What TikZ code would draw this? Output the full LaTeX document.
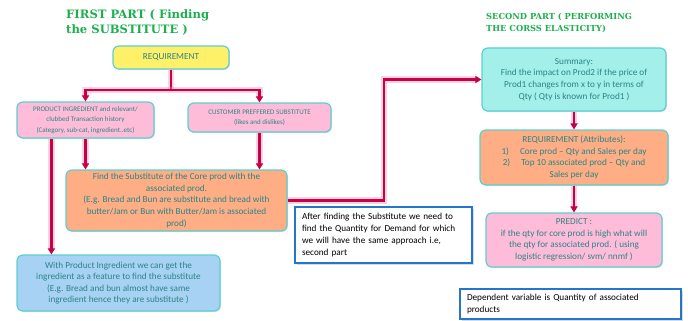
\documentclass[tikz,border=0pt]{standalone}
\usepackage{fontspec}
\setmainfont{Carlito}
\newfontfamily\titlefont{DejaVu Serif}
\usetikzlibrary{arrows.meta,shadows,calc}
\definecolor{bordc}{HTML}{5CCFCF}
\definecolor{txtc}{HTML}{2A8585}
\definecolor{yelc}{HTML}{FFF06A}
\definecolor{pinkc}{HTML}{FFBCD9}
\definecolor{salc}{HTML}{FFAD85}
\definecolor{bluec}{HTML}{A8D2F4}
\definecolor{cyanc}{HTML}{A3EFEA}
\definecolor{crimc}{HTML}{C8004A}
\definecolor{glowc}{HTML}{FF7FA8}
\definecolor{greenc}{HTML}{1DAF4E}
\definecolor{noteb}{HTML}{2277CC}
\begin{document}
\begin{tikzpicture}[x=1pt,y=-1pt,
  box/.style={draw=bordc, line width=1.2pt, rounded corners=6pt, align=center,
    text=txtc, inner sep=2pt,
    drop shadow={shadow xshift=1pt, shadow yshift=-1pt, opacity=.25}},
  nine/.style={font=\fontsize{9.2}{11.6}\selectfont},
  seven/.style={font=\fontsize{7}{10.5}\selectfont},
  note/.style={draw=noteb, line width=1.2pt, fill=white, align=left, text=black,
    inner xsep=7pt, inner ysep=3pt, font=\fontsize{9.2}{11.8}\selectfont,
    drop shadow={shadow xshift=1.5pt, shadow yshift=-1.5pt, opacity=.3}},
  conn/.style={draw=crimc, line width=2.2pt,
    preaction={draw=glowc, line width=6.5pt, opacity=.35}},
  arr/.style={conn, -{Triangle[length=6pt,width=7pt]}},
  ttl/.style={text=greenc, align=left, inner sep=0pt, anchor=north west}
]
\useasboundingbox (0,0) rectangle (688,321);

% titles
\node[ttl, font=\titlefont\bfseries\fontsize{11.6}{15.5}\selectfont] (t1) at (66,9)
  {FIRST PART ( Finding\\the SUBSTITUTE )};
\node[ttl, font=\titlefont\bfseries\fontsize{8.3}{12}\selectfont] (t2) at (486,13)
  {SECOND PART ( PERFORMING\\THE CORSS ELASTICITY)};

% first part boxes
\node[box, nine, fill=yelc, minimum width=116, minimum height=23] (req) at (171,57.5) {REQUIREMENT};
\node[box, seven, fill=pinkc, minimum width=137, minimum height=36] (prod) at (85.5,120)
  {PRODUCT INGREDIENT and relevant/\\clubbed Transaction history\\(Category, sub-cat, ingredient..etc)};
\node[box, seven, fill=pinkc, minimum width=143, minimum height=29] (cust) at (259.5,117.5)
  {CUSTOMER PREFFERED SUBSTITUTE\\(likes and dislikes)};
\node[box, nine, fill=salc, minimum width=221, minimum height=61] (orng) at (176.5,200.5)
  {Find the Substitute of the Core prod with the\\associated prod.\\(E.g. Bread and Bun are substitute and bread with\\butter/Jam or Bun with Butter/Jam is associated\\prod)};
\node[box, nine, fill=bluec, minimum width=203, minimum height=56] (blue) at (118.5,283)
  {With Product Ingredient we can get the\\ingredient as a feature to find the substitute\\(E.g. Bread and bun almost have same\\ingredient hence they are substitute )};

% notes
\node[note, text width=163, minimum height=56] (after) at (383.5,235)
  {After finding the Substitute we need to\\find the Quantity for Demand for which\\we will have the same approach i.e,\\second part};
\node[note, text width=207, minimum height=30] (dep) at (570.5,304)
  {Dependent variable is Quantity of associated\\products};

% second part boxes
\node[box, nine, fill=cyanc, minimum width=184, minimum height=63] (summ) at (574,79.5)
  {Summary:\\Find the impact on Prod2 if the price of\\Prod1 changes from x to y in terms of\\Qty ( Qty is known for Prod1 )};
\node[box, nine, fill=salc, minimum width=188, minimum height=55] (req2) at (574,157.5)
  {REQUIREMENT (Attributes):\\1)\hspace{1.2em}Core prod -- Qty and Sales per day\\2)\hspace{1.2em}Top 10 associated prod -- Qty and\\Sales per day};
\node[box, nine, fill=pinkc, minimum width=176, minimum height=54] (pred) at (574,240)
  {PREDICT :\\if the qty for core prod is high what will\\the qty for associated prod. ( using\\logistic regression/ svm/ nnmf )};

% connectors
\coordinate (j) at (171,90);
\draw[conn] (req.south) -- (j);
\draw[arr] (j) -| (prod.north);
\draw[arr] (j) -| (cust.north);
\coordinate (p1) at ([xshift=35pt]prod.south west);
\draw[arr] (p1) -- (p1 |- blue.north);
\draw[arr] (prod.south) -- (prod.south |- orng.north);
\draw[arr] (cust.south) -- (cust.south |- orng.north);
\coordinate (k) at (384,200.5);
\draw[arr] (orng.east) -- (k) |- (summ.west);
\draw[arr] (summ.south) -- (req2.north);
\draw[arr] (req2.south) -- (pred.north);
\end{tikzpicture}
\end{document}
